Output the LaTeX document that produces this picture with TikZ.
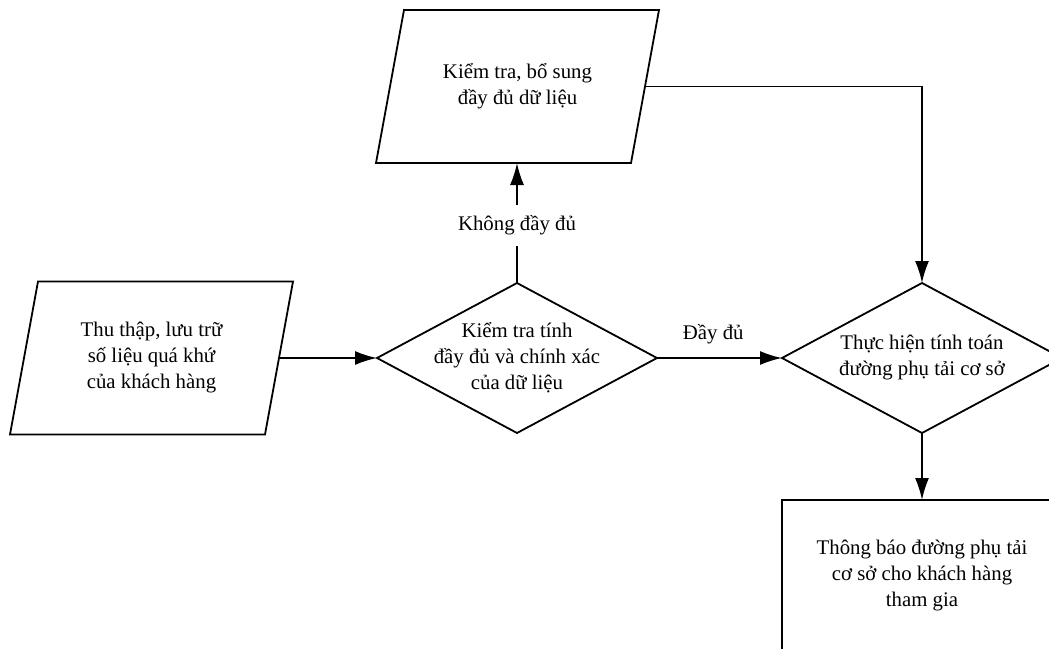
\documentclass[tikz,border=0pt]{standalone}
\usepackage{fontspec}
\setmainfont{Liberation Serif}
\usetikzlibrary{shapes.geometric,arrows.meta,positioning}
\newcommand{\ioframe}[1]{\draw ([xshift=-7pt]#1.south west) -- ([xshift=7pt]#1.north west)
  -- ([xshift=7pt]#1.north east) -- ([xshift=-7pt]#1.south east) -- cycle;}

\begin{document}
\begin{tikzpicture}[x=0.5pt,y=-0.5pt,line width=0.9pt,
    >={Latex[length=11pt,width=7pt]},
    every node/.style={font=\fontsize{10.4}{13}\selectfont},
    io/.style={rectangle,minimum width=127.5pt,minimum height=76.5pt,
      inner sep=0pt,outer sep=0pt,align=center},
    decision/.style={draw,diamond,minimum width=140pt,minimum height=75pt,
      inner sep=0pt,outer sep=0pt},
    inside/.style={align=center,inner sep=0pt},
    box/.style={draw,rectangle,minimum width=140pt,minimum height=75pt,
      outer sep=0pt,align=center}]
    \useasboundingbox (0,0) rectangle (1049,648);
    \fill[white] (0,0) rectangle (1049,648);
    % shapes
    \node[io] (collect) at (151.5,358) {Thu thập, lưu trữ\\số liệu quá khứ\\của khách hàng};
    \ioframe{collect}
    \node[decision,label={[inside]center:{Kiểm tra tính\\đầy đủ và chính xác\\của dữ liệu}}] (check) at (517,358) {};
    \node[io] (supp) at (517.5,86.5) {Kiểm tra, bổ sung\\đầy đủ dữ liệu};
    \ioframe{supp}
    \node[decision,label={[inside]center:{Thực hiện tính toán\\đường phụ tải cơ sở}}] (calc) at (922,358) {};
    \node[box] (notify) at (922,575) {Thông báo đường phụ tải\\cơ sở cho khách hàng\\tham gia};
    % connectors
    \draw[->] (collect.east) -- (check.west);
    \draw[->] (check.north) -- node[fill=white,inner ysep=5.5pt,pos=0.48]{Không đầy đủ} (check.north |- supp.south);
    \draw[->] (check.east) -- node[above=3pt,pos=0.45]{Đầy đủ} (calc.west);
    \draw[->] (supp.east) -| (calc.north);
    \draw[->] (calc.south) -- (notify.north);
\end{tikzpicture}
\end{document}
